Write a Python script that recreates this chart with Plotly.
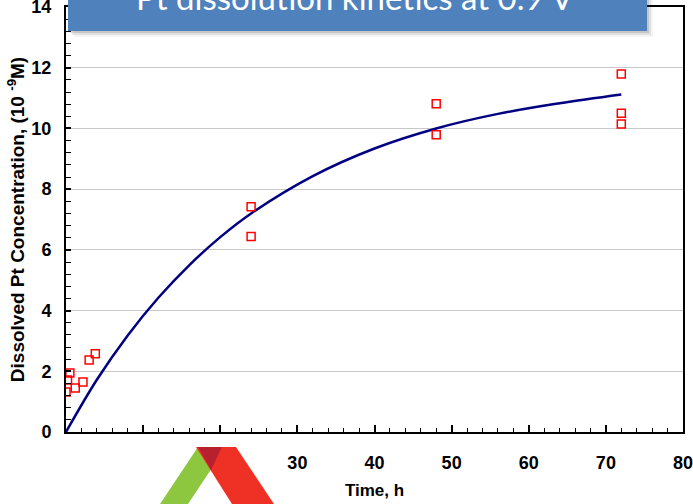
import plotly.graph_objects as go

# Measured dissolved Pt concentration (10^-9 M) versus hold time (h)
time_h = [0.0, 0.2, 0.5, 1.2, 2.2, 3.0, 3.8, 24, 24, 48, 48, 72, 72, 72]
pt_conc = [1.32, 1.71, 1.94, 1.45, 1.65, 2.37, 2.58, 7.42, 6.44, 10.81, 9.79, 11.79, 10.50, 10.15]

# Kinetic fit curve
fit_time = [0, 4, 8, 12, 16, 20, 24, 32, 40, 48, 56, 64, 72]
fit_conc = [0, 1.72, 3.18, 4.43, 5.50, 6.42, 7.20, 8.43, 9.34, 10.00, 10.48, 10.83, 11.12]

x_tick_vals = [0, 10, 20, 30, 40, 50, 60, 70, 80]
x_tick_text = ["", "", "", "30", "40", "50", "60", "70", "80"]
y_tick_vals = [0, 2, 4, 6, 8, 10, 12, 14]

title_text = "Pt dissolution kinetics at 0.9 V"

W, H = 693, 504
L, R, T, B = 66, 10, 7, 72
PW, PH = W - L - R, H - T - B


def px(x, y):
    """Pixel position -> paper coordinates."""
    return (x - L) / PW, (H - B - y) / PH


def poly(points):
    pts = [px(x, y) for x, y in points]
    return "M " + " L ".join(f"{a:.4f},{b:.4f}" for a, b in pts) + " Z"


fig = go.Figure()

fig.add_trace(go.Scatter(
    x=fit_time, y=fit_conc, mode="lines", line_shape="spline",
    line=dict(color="#000080", width=2.5), hoverinfo="skip", showlegend=False,
))
fig.add_trace(go.Scatter(
    x=time_h, y=pt_conc, mode="markers",
    marker=dict(symbol="square-open", size=8, color="#ff0000", line=dict(width=1.5)),
    showlegend=False,
))

bold = dict(family="Arial, Liberation Sans, sans-serif", size=18, color="black", weight="bold")

fig.update_layout(
    width=W, height=H,
    margin=dict(l=L, r=R, t=T, b=B, autoexpand=False),
    paper_bgcolor="white", plot_bgcolor="white",
    xaxis=dict(
        range=[0, 80], tickvals=x_tick_vals, ticktext=x_tick_text, automargin=False,
        showline=True, linewidth=2, linecolor="black", mirror=True,
        ticks="inside", ticklen=7, tickwidth=1.5, tickcolor="black",
        minor=dict(dtick=2, ticks="inside", ticklen=4, tickwidth=1.2, tickcolor="black"),
        showgrid=False, zeroline=False, tickfont=bold, ticklabelstandoff=13,
        ticklabeloverflow="allow",
        title=dict(text="Time, h", font=dict(bold, size=17), standoff=13),
    ),
    yaxis=dict(
        range=[0, 14], tickvals=y_tick_vals, automargin=False,
        showline=True, linewidth=2, linecolor="black", mirror=True,
        ticks="inside", ticklen=5, tickwidth=1.5, tickcolor="black",
        minor=dict(dtick=0.4, ticks="inside", ticklen=5, tickwidth=1.2, tickcolor="black"),
        showgrid=True, gridcolor="#c8c8c8", gridwidth=1, zeroline=False,
        tickfont=bold, ticklabelstandoff=9, ticklabeloverflow="allow",
        title=dict(text="Dissolved Pt Concentration, (10 <sup>-9</sup>M)",
                   font=dict(family="Arial, Liberation Sans, sans-serif", size=19,
                             color="black", weight="bold"), standoff=2),
    ),
)

shapes = []
# soft shadow under the title banner
for d, op in [(6, 0.06), (4, 0.10), (2, 0.16)]:
    x0, y0 = px(68 + d, -20)
    x1, y1 = px(647 + d, 31 + d)
    shapes.append(dict(type="rect", xref="paper", yref="paper", x0=x0, y0=y0, x1=x1, y1=y1,
                       fillcolor=f"rgba(60,60,60,{op})", line=dict(width=0), layer="above"))
x0, y0 = px(68, -20)
x1, y1 = px(647, 31)
shapes.append(dict(type="rect", xref="paper", yref="paper", x0=x0, y0=y0, x1=x1, y1=y1,
                   fillcolor="#4f81bd", line=dict(width=0), layer="above"))

# logo: two crossing bands
shapes.append(dict(type="path", xref="paper", yref="paper", layer="above",
                   path=poly([(198, 447), (226, 447), (188, 504), (160, 504)]),
                   fillcolor="#8dc63f", line=dict(width=0)))
shapes.append(dict(type="path", xref="paper", yref="paper", layer="above",
                   path=poly([(196, 447), (236, 447), (274, 504), (232, 504)]),
                   fillcolor="#ee3124", line=dict(width=0)))
shapes.append(dict(type="path", xref="paper", yref="paper", layer="above",
                   path=poly([(198, 447), (222, 447), (211, 470)]),
                   fillcolor="#b8202f", line=dict(width=0)))
fig.update_layout(shapes=shapes)

tx, ty = px(355, -3)
fig.add_annotation(
    x=tx, y=ty, xref="paper", yref="paper", text=title_text, showarrow=False,
    xanchor="center", yanchor="middle",
    font=dict(family="Lato, Open Sans, sans-serif", size=33, color="white"),
)

fig.write_html("out.html")
